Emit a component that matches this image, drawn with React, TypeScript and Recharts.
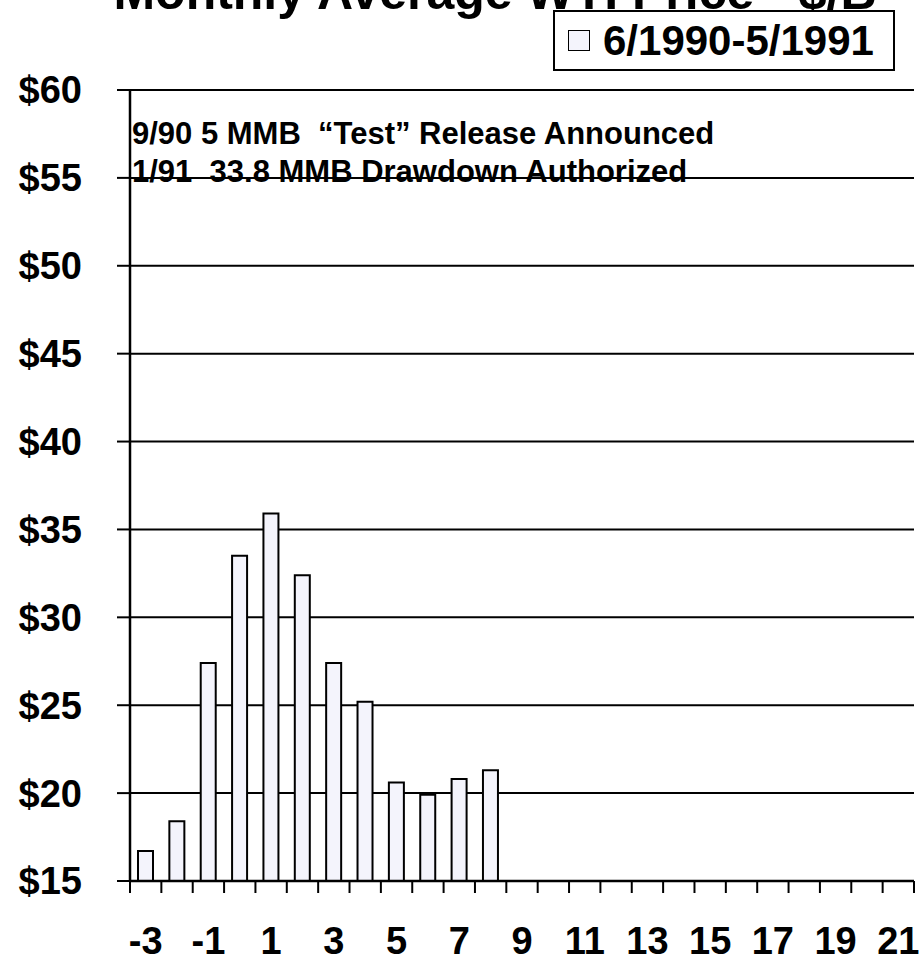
import { Bar, BarChart, CartesianGrid, Legend, XAxis, YAxis } from "recharts";

const months = [-3, -2, -1, 0, 1, 2, 3, 4, 5, 6, 7, 8, 9, 10, 11, 12, 13, 14, 15, 16, 17, 18, 19, 20, 21];
const prices1990 = [16.7, 18.4, 27.4, 33.5, 35.9, 32.4, 27.4, 25.2, 20.6, 19.9, 20.8, 21.3];
const priceTicks = [15, 20, 25, 30, 35, 40, 45, 50, 55, 60];
const seriesName = "6/1990-5/1991";
const titleText = "Monthly Average WTI Price - $/B";
const notes = ["9/90 5 MMB  \u201cTest\u201d Release Announced", "1/91  33.8 MMB Drawdown Authorized"];

const chartData = months.map((m, i) => ({
    month: String(m),
    price: i < prices1990.length ? prices1990[i] : null,
}));

const font = "'Liberation Sans', Arial, Helvetica, sans-serif";
const barFill = "#f4f4fc";

const MonthTick = (props: any) => {
    const { x, y, payload, index, width } = props;
    const band = width / months.length;
    const left = x - band / 2;
    return (
        <g>
            <line x1={left} x2={left} y1={y - 12} y2={y} stroke="#000" strokeWidth={2} />
            {index === months.length - 1 && (
                <line x1={left + band} x2={left + band} y1={y - 12} y2={y} stroke="#000" strokeWidth={2} />
            )}
            {index % 2 === 0 && (
                <text x={x} y={y + 61} textAnchor="middle" fontFamily={font} fontWeight="bold" fontSize={38} fill="#000">
                    {payload.value}
                </text>
            )}
        </g>
    );
};

const LegendBox = () => (
    <div
        style={{
            boxSizing: "border-box",
            border: "2px solid #000",
            background: "#fff",
            height: 61,
            padding: "0 19px 0 13px",
            display: "flex",
            alignItems: "center",
            fontFamily: font,
            fontWeight: "bold",
            fontSize: 42,
            lineHeight: "48px",
        }}
    >
        <span
            style={{
                boxSizing: "border-box",
                display: "inline-block",
                width: 22,
                height: 21,
                border: "1.5px solid #000",
                background: barFill,
                marginRight: 13,
            }}
        />
        {seriesName}
    </div>
);

export default function App() {
    return (
        <div style={{ position: "absolute", left: 0, top: 0, width: 920, height: 959, overflow: "hidden", background: "#fff" }}>
            <div
                style={{
                    position: "absolute",
                    left: 0,
                    width: 990,
                    top: -37,
                    textAlign: "center",
                    fontFamily: font,
                    fontWeight: "bold",
                    fontSize: 50,
                    whiteSpace: "nowrap",
                }}
            >
                {titleText}
            </div>
            <div style={{ position: "absolute", left: 0, top: 0 }}>
                <BarChart
                    width={920}
                    height={959}
                    data={chartData}
                    margin={{ top: 90, right: 6, bottom: 0, left: 0 }}
                    barSize={15}
                >
                    <CartesianGrid yAxisId="left" vertical={false} stroke="#000" strokeWidth={2} />
                    <XAxis
                        dataKey="month"
                        interval={0}
                        height={78}
                        tickSize={12}
                        tickMargin={0}
                        tickLine={false}
                        axisLine={{ stroke: "#000", strokeWidth: 2.5 }}
                        tick={<MonthTick />}
                    />
                    <YAxis
                        yAxisId="left"
                        width={130}
                        domain={[15, 60]}
                        ticks={priceTicks}
                        tickFormatter={(v: number) => `$${v}`}
                        tickSize={13}
                        tickMargin={35}
                        tickLine={{ stroke: "#000", strokeWidth: 2 }}
                        axisLine={{ stroke: "#000", strokeWidth: 2.5 }}
                        tick={{ fill: "#000", fontSize: 38, fontWeight: "bold", fontFamily: font }}
                        allowDataOverflow
                    />
                    <YAxis
                        yAxisId="right"
                        orientation="right"
                        width={0}
                        domain={[15, 60]}
                        ticks={priceTicks}
                        tick={false}
                        tickLine={false}
                        axisLine={{ stroke: "#000", strokeWidth: 2.5 }}
                    />
                    <Legend
                        layout="horizontal"
                        verticalAlign="middle"
                        align="center"
                        wrapperStyle={{ left: 553, top: 10, width: "auto" }}
                        content={() => <LegendBox />}
                    />
                    <Bar
                        yAxisId="left"
                        dataKey="price"
                        name={seriesName}
                        fill={barFill}
                        stroke="#000"
                        strokeWidth={2}
                        isAnimationActive={false}
                    />
                </BarChart>
            </div>
            {notes.map((n, i) => (
                <div
                    key={i}
                    style={{
                        position: "absolute",
                        left: 132,
                        top: 116 + i * 38,
                        fontFamily: font,
                        fontWeight: "bold",
                        fontSize: 31,
                        lineHeight: "36px",
                        whiteSpace: "pre",
                        pointerEvents: "none",
                    }}
                >
                    {n}
                </div>
            ))}
        </div>
    );
}
